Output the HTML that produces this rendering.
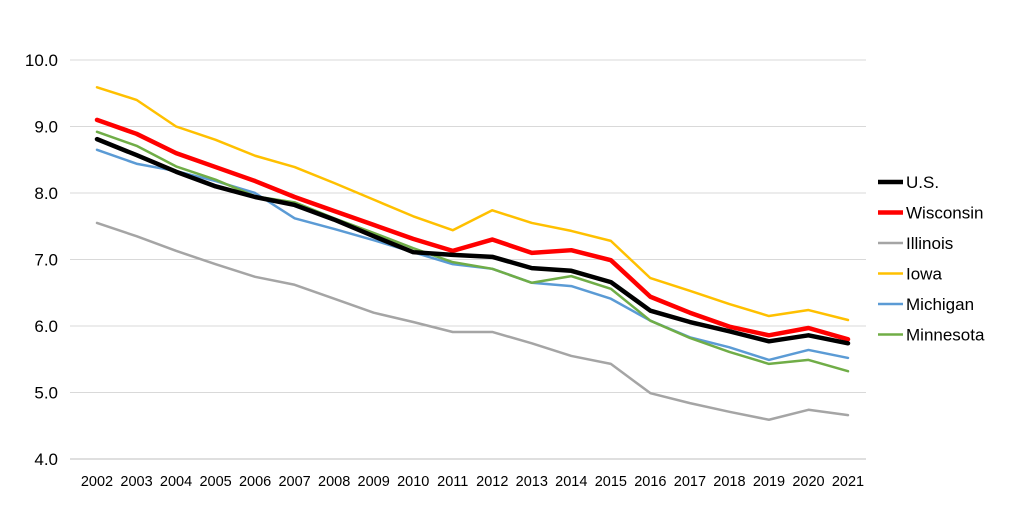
<!DOCTYPE html>
<html><head><meta charset="utf-8"><style>
body{margin:0;background:#fff;font-family:"Liberation Sans",sans-serif}
svg text{font-family:"Liberation Sans",sans-serif;font-size:17px;fill:#000}
</style></head><body>
<svg id="c" width="1024" height="515"></svg>
<script>
const years=[2002,2003,2004,2005,2006,2007,2008,2009,2010,2011,2012,2013,2014,2015,2016,2017,2018,2019,2020,2021];
const yTicks=[4,5,6,7,8,9,10];
const us=[8.81,8.57,8.32,8.1,7.94,7.82,7.6,7.35,7.11,7.07,7.04,6.87,6.83,6.66,6.23,6.06,5.92,5.77,5.86,5.74];
const wisconsin=[9.1,8.89,8.6,8.39,8.18,7.94,7.73,7.52,7.31,7.13,7.3,7.1,7.14,6.99,6.44,6.2,5.99,5.86,5.97,5.8];
const illinois=[7.55,7.35,7.13,6.93,6.74,6.62,6.41,6.2,6.06,5.91,5.91,5.74,5.55,5.43,4.99,4.84,4.71,4.59,4.74,4.66];
const iowa=[9.59,9.4,9.0,8.8,8.56,8.39,8.15,7.9,7.65,7.44,7.74,7.55,7.43,7.28,6.72,6.53,6.33,6.15,6.24,6.09];
const michigan=[8.65,8.44,8.33,8.18,8.0,7.62,7.46,7.29,7.11,6.93,6.86,6.65,6.6,6.41,6.08,5.83,5.68,5.49,5.64,5.52];
const minnesota=[8.92,8.71,8.4,8.2,7.95,7.86,7.62,7.4,7.17,6.96,6.86,6.65,6.75,6.56,6.08,5.82,5.61,5.43,5.49,5.32];
const series=[
 {name:"Illinois",data:illinois,color:"#a5a5a5",w:2.5},
 {name:"Iowa",data:iowa,color:"#ffc000",w:2.5},
 {name:"Michigan",data:michigan,color:"#5b9bd5",w:2.5},
 {name:"Minnesota",data:minnesota,color:"#70ad47",w:2.5},
 {name:"Wisconsin",data:wisconsin,color:"#ff0000",w:4.5},
 {name:"U.S.",data:us,color:"#000000",w:4.5}];
const legendOrder=["U.S.","Wisconsin","Illinois","Iowa","Michigan","Minnesota"];
const svg=document.getElementById('c');const NS="http://www.w3.org/2000/svg";
const x=i=>97+i*(848-97)/(years.length-1);
const y=v=>459-(v-4)*(459-60)/6;
function mk(t,a,p){const e=document.createElementNS(NS,t);for(const k in a)e.setAttribute(k,a[k]);(p||svg).appendChild(e);return e;}
yTicks.forEach(t=>{
 const g=mk('line',{x1:70,x2:866,y1:y(t),y2:y(t),stroke:t===4?'#bfbfbf':'#d9d9d9','stroke-width':1});
 
 const l=mk('text',{x:58,y:y(t)+6,'text-anchor':'end'});l.textContent=t.toFixed(1);
 
});
years.forEach((yr,i)=>{
 const l=mk('text',{x:x(i),y:486,'text-anchor':'middle'});l.textContent=yr;
 l.style.fontSize='14.5px';
 
});
series.forEach(s=>{
 const p=mk('polyline',{points:s.data.map((v,i)=>x(i)+','+y(v)).join(' '),fill:'none',stroke:s.color,'stroke-width':s.w,'stroke-linejoin':'round','stroke-linecap':'round'});
 
 
});
legendOrder.forEach((n,i)=>{
 const s=series.find(q=>q.name===n);const ly=182+i*30.5;
 const g=mk('g',{});
 
 
 mk('line',{x1:878,x2:903,y1:ly,y2:ly,stroke:s.color,'stroke-width':s.w},g);
 const t=mk('text',{x:906,y:ly+6},g);t.textContent=n;
});
</script>
</body></html>
